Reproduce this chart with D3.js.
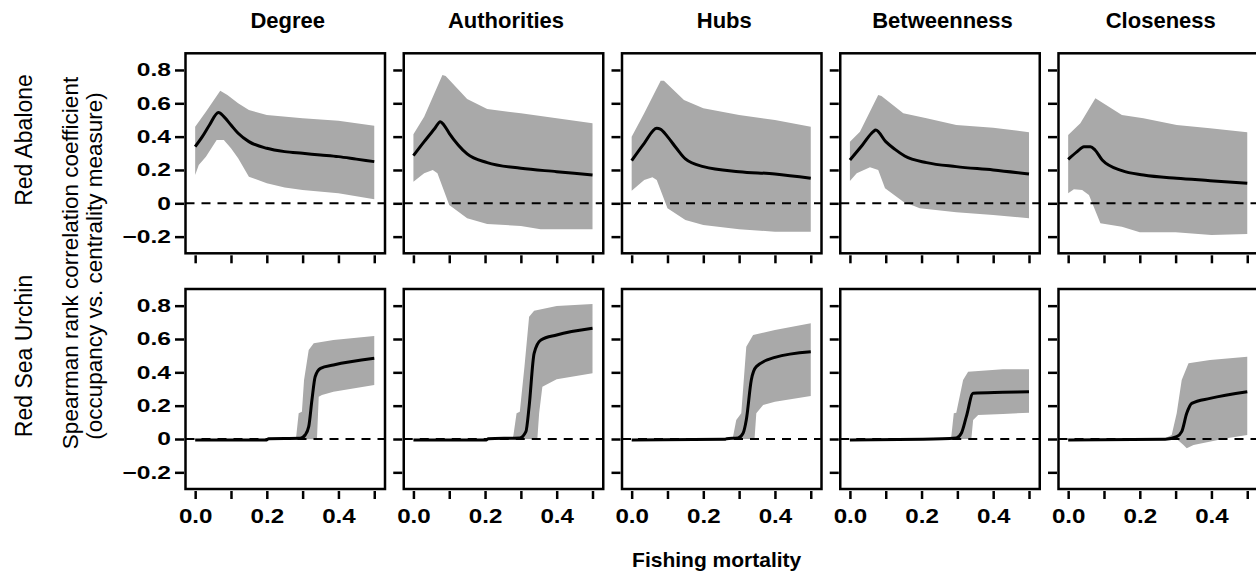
<!DOCTYPE html>
<html>
<head>
<meta charset="utf-8">
<script src="https://cdn.jsdelivr.net/npm/d3@7"></script>
<style>
  body { margin: 0; background: #fff; }
  svg text { font-family: "Liberation Sans", Arial, sans-serif; fill: #000; }
</style>
</head>
<body>
<div id="chart"></div>
<script>
// panel labels
var measures = ["Degree", "Authorities", "Hubs", "Betweenness", "Closeness"];
var species = ["Red Abalone", "Red Sea Urchin"];
var xTicks = [0, 0.1, 0.2, 0.3, 0.4, 0.5];
var xTickLabels = ["0.0", "", "0.2", "", "0.4", ""];
var yTicks = [0.8, 0.6, 0.4, 0.2, 0, -0.2];
var yTickLabels = ["0.8", "0.6", "0.4", "0.2", "0", "\u22120.2"];

// [fishing mortality, correlation], one list per measure
var abaloneMean = [
  [[0,0.34],[0.02,0.40],[0.04,0.47],[0.065,0.545],[0.08,0.52],[0.1,0.47],[0.12,0.42],[0.15,0.37],[0.2,0.33],[0.25,0.31],[0.3,0.30],[0.35,0.29],[0.4,0.28],[0.45,0.265],[0.5,0.25]],
  [[0,0.286],[0.03,0.37],[0.06,0.45],[0.075,0.49],[0.085,0.47],[0.1,0.42],[0.125,0.35],[0.15,0.296],[0.206,0.244],[0.3,0.21],[0.4,0.19],[0.5,0.17]],
  [[0,0.256],[0.035,0.36],[0.07,0.45],[0.08,0.445],[0.1,0.4],[0.125,0.33],[0.15,0.266],[0.2,0.22],[0.3,0.19],[0.4,0.176],[0.5,0.15]],
  [[0,0.26],[0.035,0.35],[0.065,0.43],[0.072,0.44],[0.1,0.37],[0.125,0.325],[0.153,0.284],[0.214,0.244],[0.297,0.22],[0.4,0.2],[0.5,0.176]],
  [[0,0.264],[0.025,0.31],[0.044,0.34],[0.062,0.34],[0.075,0.32],[0.095,0.26],[0.15,0.196],[0.21,0.17],[0.303,0.15],[0.396,0.136],[0.5,0.12]]
];
var abaloneUpper = [
  [[0,0.46],[0.03,0.55],[0.07,0.675],[0.09,0.65],[0.12,0.6],[0.15,0.56],[0.2,0.53],[0.3,0.51],[0.4,0.495],[0.5,0.465]],
  [[0,0.414],[0.03,0.52],[0.081,0.77],[0.09,0.764],[0.15,0.626],[0.206,0.566],[0.3,0.54],[0.4,0.51],[0.5,0.48]],
  [[0,0.40],[0.035,0.54],[0.081,0.736],[0.09,0.736],[0.146,0.62],[0.2,0.57],[0.3,0.53],[0.4,0.5],[0.5,0.46]],
  [[0,0.37],[0.028,0.43],[0.079,0.65],[0.088,0.644],[0.149,0.54],[0.214,0.51],[0.297,0.47],[0.4,0.454],[0.5,0.426]],
  [[0,0.41],[0.034,0.48],[0.076,0.63],[0.15,0.53],[0.21,0.51],[0.303,0.47],[0.396,0.45],[0.5,0.426]]
];
var abaloneLower = [
  [[0,0.17],[0.01,0.23],[0.03,0.28],[0.06,0.38],[0.08,0.38],[0.1,0.33],[0.12,0.27],[0.15,0.16],[0.2,0.12],[0.25,0.095],[0.3,0.08],[0.4,0.06],[0.5,0.025]],
  [[0,0.13],[0.03,0.18],[0.054,0.2],[0.067,0.18],[0.1,-0.01],[0.15,-0.09],[0.206,-0.124],[0.3,-0.136],[0.355,-0.156],[0.5,-0.156]],
  [[0,0.076],[0.035,0.14],[0.058,0.156],[0.07,0.14],[0.1,-0.03],[0.15,-0.1],[0.2,-0.13],[0.3,-0.156],[0.4,-0.17],[0.5,-0.17]],
  [[0,0.134],[0.019,0.18],[0.056,0.216],[0.079,0.2],[0.098,0.09],[0.149,0.01],[0.195,-0.03],[0.297,-0.054],[0.4,-0.07],[0.5,-0.09]],
  [[0,0.06],[0.016,0.084],[0.039,0.08],[0.058,0.05],[0.09,-0.12],[0.15,-0.14],[0.2,-0.174],[0.3,-0.174],[0.4,-0.19],[0.5,-0.184]]
];
var urchinMean = [
  [[0,-0.006],[0.2,-0.006],[0.205,0.002],[0.293,0.004],[0.307,0.024],[0.317,0.074],[0.326,0.234],[0.335,0.374],[0.35,0.424],[0.386,0.444],[0.5,0.484]],
  [[0,-0.006],[0.204,-0.006],[0.209,0.002],[0.297,0.006],[0.314,0.044],[0.323,0.194],[0.337,0.514],[0.356,0.594],[0.4,0.624],[0.5,0.664]],
  [[0,-0.006],[0.26,-0.002],[0.265,0.002],[0.297,0.006],[0.311,0.034],[0.32,0.114],[0.334,0.354],[0.348,0.434],[0.4,0.49],[0.5,0.524]],
  [[0,-0.006],[0.204,-0.002],[0.297,0.006],[0.311,0.034],[0.325,0.134],[0.344,0.274],[0.427,0.28],[0.5,0.284]],
  [[0,-0.006],[0.271,-0.002],[0.303,0.014],[0.317,0.044],[0.331,0.154],[0.345,0.214],[0.396,0.244],[0.5,0.284]]
];
var urchinUpper = [
  [[0,-0.006],[0.28,0.004],[0.282,0.014],[0.289,0.154],[0.298,0.164],[0.304,0.354],[0.317,0.534],[0.331,0.574],[0.386,0.594],[0.5,0.618]],
  [[0,-0.006],[0.277,0.004],[0.279,0.02],[0.288,0.154],[0.297,0.164],[0.31,0.434],[0.323,0.734],[0.337,0.77],[0.4,0.798],[0.5,0.81]],
  [[0,-0.006],[0.28,0.004],[0.283,0.014],[0.292,0.114],[0.306,0.154],[0.32,0.554],[0.339,0.624],[0.4,0.654],[0.5,0.694]],
  [[0,-0.006],[0.28,0.004],[0.283,0.014],[0.29,0.154],[0.297,0.158],[0.316,0.354],[0.33,0.404],[0.427,0.418],[0.5,0.418]],
  [[0,-0.006],[0.271,0.004],[0.289,0.024],[0.303,0.154],[0.317,0.354],[0.336,0.454],[0.396,0.474],[0.5,0.494]]
];
var urchinLower = [
  [[0,-0.006],[0.34,-0.002],[0.345,0.254],[0.354,0.264],[0.386,0.284],[0.5,0.324]],
  [[0,-0.006],[0.346,0],[0.351,0.154],[0.36,0.314],[0.4,0.358],[0.5,0.394]],
  [[0,-0.006],[0.343,0],[0.348,0.154],[0.367,0.204],[0.4,0.224],[0.5,0.258]],
  [[0,-0.006],[0.339,0],[0.344,0.114],[0.358,0.144],[0.427,0.15],[0.5,0.158]],
  [[0,-0.006],[0.303,0],[0.322,-0.036],[0.331,-0.056],[0.35,-0.036],[0.442,0.004],[0.5,0.024]]
];

var rows = [
  { mean: abaloneMean, upper: abaloneUpper, lower: abaloneLower, top: 53.3, bottom: 253.3 },
  { mean: urchinMean, upper: urchinUpper, lower: urchinLower, top: 289, bottom: 489 }
];

var W = 1256, H = 575;
var panelW = 199.5, step = 218.25, left0 = 185.5;

var svg = d3.select("#chart").append("svg")
  .attr("width", W).attr("height", H);

// the original's tick labels are drawn wider than the font
function stretch(sel, s) {
  sel.each(function () {
    var t = d3.select(this);
    var x = +t.attr("x") || 0;
    t.attr("x", x / s).attr("transform", "scale(" + s + ",1)");
  });
}

rows.forEach(function (row, r) {
  measures.forEach(function (m, c) {
    var left = left0 + c * step;
    var x = d3.scaleLinear().domain([-0.027, 0.53]).range([left, left + panelW]);
    var y = d3.scaleLinear().domain([-0.3, 0.9]).range([row.bottom, row.top]);
    var g = svg.append("g");

    var line = d3.line().x(function (d) { return x(d[0]); }).y(function (d) { return y(d[1]); });

    // confidence band
    var poly = row.upper[c].concat(row.lower[c].slice().reverse());
    g.append("path")
      .attr("d", line(poly) + "Z")
      .attr("fill", "#a9a9a9")
      .attr("stroke", "none");

    // zero reference
    g.append("line")
      .attr("x1", x.range()[0]).attr("x2", x.range()[1])
      .attr("y1", y(0)).attr("y2", y(0))
      .attr("stroke", "#000").attr("stroke-width", 2)
      .attr("stroke-dasharray", "9,7");

    g.append("path")
      .attr("d", line.curve(d3.curveMonotoneX)(row.mean[c]))
      .attr("fill", "none")
      .attr("stroke", "#000")
      .attr("stroke-width", 3)
      .attr("stroke-linejoin", "round");

    g.append("rect")
      .attr("x", left).attr("y", row.top)
      .attr("width", panelW).attr("height", row.bottom - row.top)
      .attr("fill", "none").attr("stroke", "#000").attr("stroke-width", 2.5);

    // x axis
    var xa = g.append("g")
      .attr("transform", "translate(0," + (row.bottom + 2) + ")")
      .call(d3.axisBottom(x).tickValues(xTicks).tickSize(8).tickPadding(9)
        .tickFormat(function (d, i) { return r === 1 ? xTickLabels[i] : ""; }));
    xa.select(".domain").remove();
    xa.selectAll(".tick line").attr("stroke-width", 2.5);
    xa.selectAll(".tick text")
      .style("font-size", "21px").style("font-weight", "bold")
      .style("font-family", "'Liberation Sans', Arial, sans-serif");
    stretch(xa.selectAll(".tick text"), 1.15);

    // y axis
    var ya = g.append("g")
      .attr("transform", "translate(" + (left - 1.5) + ",0)")
      .call(d3.axisLeft(y).tickValues(yTicks).tickSize(9).tickPadding(4)
        .tickFormat(function (d, i) { return c === 0 ? yTickLabels[i] : ""; }));
    ya.select(".domain").remove();
    ya.selectAll(".tick line").attr("stroke-width", 2.5);
    ya.selectAll(".tick text")
      .style("font-size", "18.5px").style("font-weight", "bold")
      .style("font-family", "'Liberation Sans', Arial, sans-serif");
    stretch(ya.selectAll(".tick text"), 1.33);

    if (r === 0) {
      svg.append("text")
        .attr("x", left + panelW / 2 + 2.5).attr("y", 28)
        .attr("text-anchor", "middle")
        .style("font-size", "22px").style("font-weight", "bold")
        .text(m);
    }
  });
});

// row labels
var rowLabelY = [140, 356];
species.forEach(function (s, i) {
  svg.append("text")
    .attr("transform", "translate(32," + rowLabelY[i] + ") rotate(-90)")
    .attr("text-anchor", "middle")
    .style("font-size", "23px")
    .text(s);
});

svg.append("text")
  .attr("transform", "translate(78,263) rotate(-90)")
  .attr("text-anchor", "middle")
  .style("font-size", "22.5px")
  .text("Spearman rank correlation coefficient");
svg.append("text")
  .attr("transform", "translate(102,266) rotate(-90)")
  .attr("text-anchor", "middle")
  .style("font-size", "22.5px")
  .text("(occupancy vs. centrality measure)");

svg.append("text")
  .attr("x", 716.7).attr("y", 567)
  .attr("text-anchor", "middle")
  .style("font-size", "21px").style("font-weight", "bold")
  .text("Fishing mortality");
</script>
</body>
</html>
